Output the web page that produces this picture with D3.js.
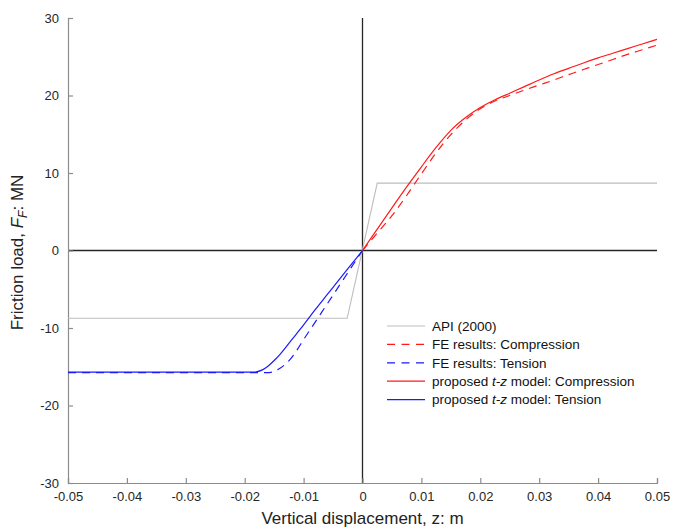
<!DOCTYPE html>
<html>
<head>
<meta charset="utf-8">
<script src="https://cdn.jsdelivr.net/npm/d3@7"></script>
<style>
  body { margin: 0; background: #fff; }
  svg { display: block; font-family: "Liberation Sans", Arial, sans-serif; }
</style>
</head>
<body>
<svg id="chart" width="674" height="529"></svg>
<script>
// ---- data ----
const xTicks = [-0.05, -0.04, -0.03, -0.02, -0.01, 0, 0.01, 0.02, 0.03, 0.04, 0.05];
const xTickLabels = ["-0.05", "-0.04", "-0.03", "-0.02", "-0.01", "0", "0.01", "0.02", "0.03", "0.04", "0.05"];
const yTicks = [-30, -20, -10, 0, 10, 20, 30];
const yTickLabels = ["-30", "-20", "-10", "0", "10", "20", "30"];

const apiZ = [-0.05, -0.0026, 0.0025, 0.05];
const apiF = [-8.75, -8.75, 8.7, 8.7];

const feCompZ = [0, 0.0025, 0.005, 0.0075, 0.01, 0.0125, 0.015, 0.0175, 0.02, 0.0225, 0.025, 0.0275, 0.03, 0.0325, 0.035, 0.0375, 0.04, 0.0425, 0.045, 0.0475, 0.05];
const feCompF = [0, 2.25, 4.5, 7.1, 9.9, 12.6, 14.95, 16.85, 18.3, 19.3, 20.0, 20.7, 21.35, 22.0, 22.7, 23.35, 24.0, 24.65, 25.3, 25.9, 26.5];

const feTensZ = [-0.05, -0.0158, -0.015, -0.014, -0.013, -0.012, -0.011, -0.01, -0.008, -0.006, -0.004, -0.002, 0];
const feTensF = [-15.75, -15.75, -15.6, -15.2, -14.6, -13.8, -12.7, -11.5, -9.2, -6.9, -4.6, -2.3, 0];

const tzCompZ = [0, 0.0025, 0.005, 0.0075, 0.01, 0.0125, 0.015, 0.0175, 0.02, 0.0225, 0.025, 0.0275, 0.03, 0.0325, 0.035, 0.0375, 0.04, 0.0425, 0.045, 0.0475, 0.05];
const tzCompF = [0, 2.75, 5.5, 8.2, 10.8, 13.3, 15.5, 17.15, 18.45, 19.45, 20.3, 21.15, 22.0, 22.8, 23.5, 24.2, 24.85, 25.45, 26.05, 26.65, 27.25];

const tzTensZ = [-0.05, -0.0187, -0.018, -0.017, -0.016, -0.015, -0.014, -0.012, -0.01, -0.008, -0.006, -0.004, -0.002, 0];
const tzTensF = [-15.7, -15.7, -15.65, -15.4, -14.9, -14.2, -13.4, -11.5, -9.6, -7.6, -5.7, -3.8, -1.9, 0];

const legendLabels = ["API (2000)", "FE results: Compression", "FE results: Tension", "proposed t-z model: Compression", "proposed t-z model: Tension"];

// ---- drawing ----
const svg = d3.select("#chart");
const margin = { left: 68, right: 17, top: 18, bottom: 46 };
const W = 674, H = 529;
const x = d3.scaleLinear().domain([-0.05, 0.05]).range([margin.left, W - margin.right]);
const y = d3.scaleLinear().domain([-30, 30]).range([H - margin.bottom, margin.top]);

const axisColor = "#8c8c8c";

// zero lines
svg.append("line").attr("x1", x(-0.05)).attr("x2", x(0.05)).attr("y1", y(0)).attr("y2", y(0))
  .attr("stroke", "#262626").attr("stroke-width", 1.3);
svg.append("line").attr("x1", x(0)).attr("x2", x(0)).attr("y1", y(-30)).attr("y2", y(30))
  .attr("stroke", "#262626").attr("stroke-width", 1.3);

// axes
const xAxis = d3.axisBottom(x).tickValues(xTicks).tickSize(-5).tickPadding(9)
  .tickFormat((d, i) => xTickLabels[i]);
const gx = svg.append("g").attr("transform", `translate(0,${y(-30)})`).call(xAxis);
const yAxis = d3.axisLeft(y).tickValues(yTicks).tickSize(-5).tickPadding(9)
  .tickFormat((d, i) => yTickLabels[i]);
const gy = svg.append("g").attr("transform", `translate(${x(-0.05)},0)`).call(yAxis);
[gx, gy].forEach(g => {
  g.select(".domain").attr("stroke", axisColor).attr("stroke-width", 1.2);
  g.selectAll(".tick line").attr("stroke", axisColor).attr("stroke-width", 1.2);
  g.selectAll(".tick text").attr("fill", "#262626").style("font-size", "13px")
    .style("font-family", "'Liberation Sans', Arial, sans-serif");
});
gx.selectAll(".tick text").attr("dy", "0.71em");

const line = d3.line().x(d => x(d[0])).y(d => y(d[1]));
const zip = (a, b) => a.map((v, i) => [v, b[i]]);

const series = [
  { z: apiZ, f: apiF, color: "#bdbdbd", dash: null, w: 1.1 },
  { z: feCompZ, f: feCompF, color: "#ff1a1a", dash: "8,6", w: 1.2 },
  { z: feTensZ, f: feTensF, color: "#1a1aff", dash: "8,6", w: 1.2 },
  { z: tzCompZ, f: tzCompF, color: "#ff1a1a", dash: null, w: 1.2 },
  { z: tzTensZ, f: tzTensF, color: "#1a1aff", dash: null, w: 1.2 }
];

const curve = d3.line().x(d => x(d[0])).y(d => y(d[1])).curve(d3.curveMonotoneX);
series.forEach((s, i) => {
  svg.append("path")
    .attr("d", (i === 0 ? line : curve)(zip(s.z, s.f)))
    .attr("fill", "none").attr("stroke", s.color).attr("stroke-width", s.w)
    .attr("stroke-dasharray", s.dash);
});

// legend
const lg = svg.append("g");
const lgX = 387, lgY0 = 326, lgDy = 18.4;
series.forEach((s, i) => {
  const yy = lgY0 + i * lgDy;
  lg.append("line").attr("x1", lgX).attr("x2", lgX + 38).attr("y1", yy).attr("y2", yy)
    .attr("stroke", s.color).attr("stroke-width", s.w).attr("stroke-dasharray", s.dash ? "8,6.5" : null);
  const t = lg.append("text").attr("x", lgX + 45).attr("y", yy).attr("dy", "0.35em")
    .style("font-size", "13.5px").attr("fill", "#111");
  const lab = legendLabels[i];
  if (lab.includes("t-z")) {
    const parts = lab.split("t-z");
    t.append("tspan").text(parts[0]);
    t.append("tspan").text("t-z").style("font-style", "italic");
    t.append("tspan").text(parts[1]);
  } else {
    t.text(lab);
  }
});

// axis titles
const xt = svg.append("text").attr("x", x(0)).attr("y", 524).attr("text-anchor", "middle")
  .style("font-size", "17px").attr("fill", "#222");
xt.append("tspan").text("Vertical displacement, ");
xt.append("tspan").text("z");
xt.append("tspan").text(": m");

const yt = svg.append("text").attr("transform", `translate(23,${y(0) + 2}) rotate(-90)`)
  .attr("text-anchor", "middle").style("font-size", "17px").attr("fill", "#222");
yt.append("tspan").text("Friction load, ");
yt.append("tspan").text("F").style("font-style", "italic");
yt.append("tspan").text("F").style("font-style", "italic").style("font-size", "12px").attr("dy", "4");
yt.append("tspan").text(": MN").attr("dy", "-4");
</script>
</body>
</html>
